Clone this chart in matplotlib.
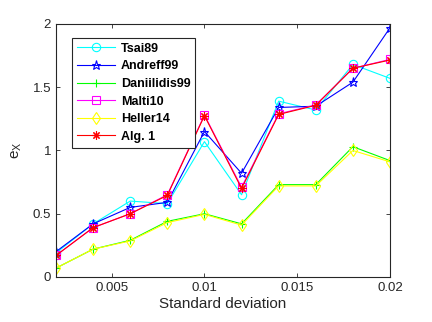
import matplotlib
matplotlib.use("Agg")
import matplotlib.pyplot as plt

plt.rcParams['font.family'] = ['Liberation Sans', 'DejaVu Sans']

std_dev = [0.002, 0.004, 0.006, 0.008, 0.010, 0.012, 0.014, 0.016, 0.018, 0.020]

tsai89 = [0.19, 0.42, 0.60, 0.58, 1.07, 0.65, 1.39, 1.32, 1.68, 1.57]
andreff99 = [0.20, 0.42, 0.55, 0.59, 1.15, 0.82, 1.34, 1.35, 1.54, 1.97]
daniilidis99 = [0.07, 0.22, 0.29, 0.44, 0.50, 0.42, 0.73, 0.73, 1.03, 0.92]
malti10 = [0.17, 0.39, 0.50, 0.65, 1.28, 0.71, 1.29, 1.36, 1.65, 1.72]
heller14 = [0.07, 0.22, 0.285, 0.43, 0.495, 0.41, 0.72, 0.72, 1.00, 0.91]
alg1 = [0.17, 0.39, 0.50, 0.645, 1.275, 0.70, 1.285, 1.357, 1.65, 1.715]

series = [
    ("Tsai89", tsai89, (0, 1, 1), 'o'),
    ("Andreff99", andreff99, (0, 0, 1), '*'),
    ("Daniilidis99", daniilidis99, (0, 1, 0), '+'),
    ("Malti10", malti10, (1, 0, 1), 's'),
    ("Heller14", heller14, (1, 1, 0), 'd'),
    ("Alg. 1", alg1, (1, 0, 0), (8, 2, 0)),
]

fig = plt.figure(figsize=(4.32, 3.22), dpi=100)
ax = fig.add_axes([0.1296, 0.1398, 0.7732, 0.7857])

for name, vals, col, mk in series:
    ms = 6.5 if mk == '*' else 6
    ax.plot(std_dev, vals, color=col, marker=mk, markersize=ms, lw=0.8,
            markerfacecolor='none', markeredgecolor=col, markeredgewidth=0.8,
            label=name)

ax.set_xlim(0.002, 0.02)
ax.set_ylim(0, 2)
ax.set_xticks([0.005, 0.01, 0.015, 0.02])
ax.set_xticklabels(["0.005", "0.01", "0.015", "0.02"])
ax.set_yticks([0, 0.5, 1, 1.5, 2])
ax.set_yticklabels(["0", "0.5", "1", "1.5", "2"])
ax.tick_params(direction='in', top=True, right=True, labelsize=9.5,
               length=3, width=0.6, colors='#262626')
for sp in ax.spines.values():
    sp.set_linewidth(0.8)
    sp.set_color('#262626')

ax.set_xlabel("Standard deviation", fontsize=11, color='#262626', labelpad=2)
ax.set_ylabel(r"$\mathregular{e_X}$", fontsize=11, color='#262626', labelpad=6)

leg = ax.legend(loc='upper left', bbox_to_anchor=(0.048, 0.946),
                borderaxespad=0,
                prop={'weight': 'bold', 'size': 9}, fancybox=False,
                edgecolor='#262626', framealpha=1, handlelength=3.0,
                borderpad=0.4, labelspacing=0.45, handletextpad=0.5)
leg.get_frame().set_linewidth(0.8)

fig.savefig("out.png", dpi=100)
